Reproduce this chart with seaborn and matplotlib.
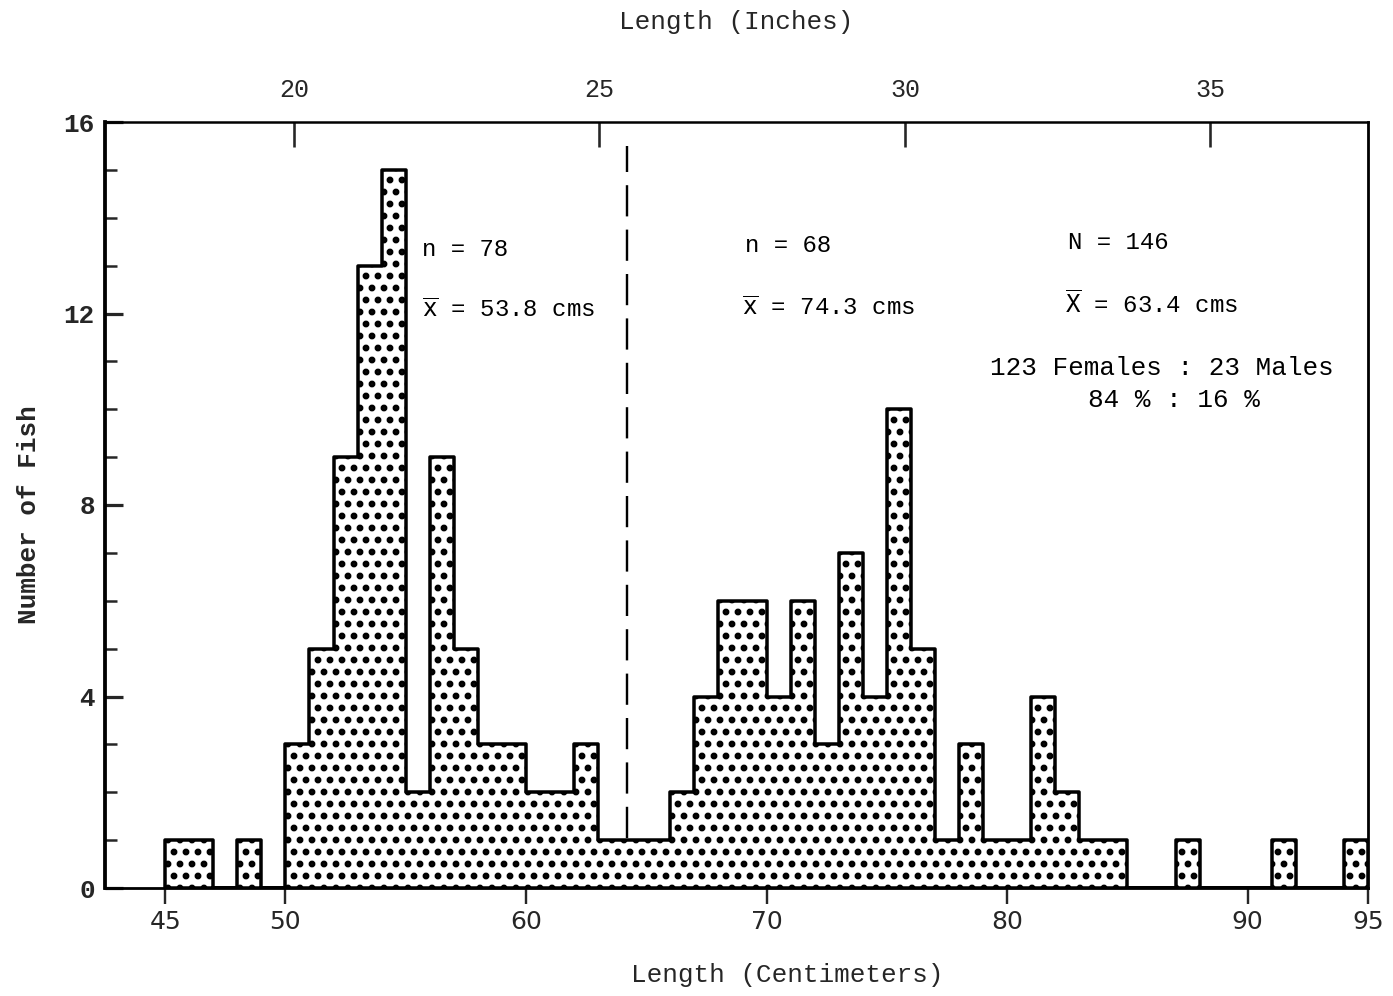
import numpy as np
import pandas as pd
import matplotlib
matplotlib.use("Agg")
import matplotlib.pyplot as plt
import seaborn as sns

# Length classes (lower edge of each 1-cm class) and number of fish per class
length_cm = [45, 46, 48, 50, 51, 52, 53, 54, 55, 56, 57, 58, 59, 60, 61, 62, 63,
             64, 65, 66, 67, 68, 69, 70, 71, 72, 73, 74, 75, 76, 77, 78, 79, 80,
             81, 82, 83, 84, 87, 91, 94]
fish_count = [1, 1, 1, 3, 5, 9, 13, 15, 2, 9, 5, 3, 3, 2, 2, 3, 1,
              1, 1, 2, 4, 6, 6, 4, 6, 3, 7, 4, 10, 5, 1, 3, 1, 1,
              4, 2, 1, 1, 1, 1, 1]

cm_ticks = [45, 50, 60, 70, 80, 90, 95]
inch_ticks = [20, 25, 30, 35]
count_ticks = [0, 4, 8, 12, 16]

# Split between the two size groups and the summary statistics
split_cm = 64.2
left_n, left_mean = 78, 53.8
right_n, right_mean = 68, 74.3
total_n, total_mean = 146, 63.4
females, males = 123, 23
females_pct, males_pct = 84, 16

df = pd.DataFrame({"length": np.array(length_cm) + 0.5, "count": fish_count})

sns.set_style("ticks")
plt.rcParams["hatch.linewidth"] = 4.4
plt.rcParams["hatch.color"] = "black"
MONO = "Liberation Mono"
SANS = "DejaVu Sans"

W, H = 1393, 996
fig = plt.figure(figsize=(W / 72, H / 72), dpi=72)
ax = fig.add_axes([105 / W, 1 - 888 / H, 1263 / W, 766 / H])

sns.histplot(data=df, x="length", weights="count", binwidth=1,
             binrange=(45, 95), element="step", fill=True, facecolor="white",
             edgecolor="black", linewidth=3.5, hatch=".", ax=ax)

ax.set_xlim(42.5, 95.0)
ax.set_ylim(0, 16)

# dividing line between the two groups
ax.vlines(split_cm, 1.05, 15.5, colors="black", linewidth=2.4,
          linestyles=(0, (13, 5.5)))

# spines
for side, lw in {"left": 3.8, "bottom": 2.8, "top": 2.5, "right": 2.8}.items():
    ax.spines[side].set_visible(True)
    ax.spines[side].set_linewidth(lw)
    ax.spines[side].set_color("black")

# y axis: major labelled ticks every 4, minor every 1, pointing inward
ax.set_yticks(count_ticks)
ax.set_yticks(range(0, 17), minor=True)
ax.tick_params(axis="y", which="major", direction="in", length=18, width=3.2,
               pad=10, labelsize=26, left=True, right=False)
ax.tick_params(axis="y", which="minor", direction="in", length=12, width=2.5,
               left=True, right=False)
for lab in ax.get_yticklabels():
    lab.set_fontfamily(MONO)
    lab.set_fontweight("bold")

# bottom axis in centimetres
ax.set_xticks(cm_ticks)
ax.set_xticklabels([str(t) for t in cm_ticks])
ax.tick_params(axis="x", which="major", direction="out", length=16, width=2.4,
               pad=6, labelsize=25, bottom=True, top=False)
for lab in ax.get_xticklabels():
    lab.set_fontfamily(SANS)

# top axis in inches
sec = ax.secondary_xaxis("top", functions=(lambda c: (c + 0.45) / 2.54,
                                           lambda i: i * 2.54 - 0.45))
sec.set_xticks(inch_ticks)
sec.tick_params(axis="x", direction="in", length=25, width=2.6, pad=20,
                labelsize=25)
sec.spines["top"].set_visible(False)
for lab in sec.get_xticklabels():
    lab.set_fontfamily(MONO)

# axis titles
ax.text(0.5, 1.13, "Length (Inches)", transform=ax.transAxes, ha="center",
        va="center", fontsize=26, fontfamily=MONO)
ax.text(0.54, -0.114, "Length (Centimeters)", transform=ax.transAxes,
        ha="center", va="center", fontsize=26, fontfamily=MONO)
ax.set_xlabel("")
ax.set_ylabel("")
ax.text(-0.0605, 0.487, "Number of Fish", transform=ax.transAxes,
        rotation=90, ha="center", va="center", fontsize=26, fontfamily=MONO,
        fontweight="bold")

txt = dict(fontsize=24, fontfamily=MONO, ha="left", va="center", color="black")
ax.text(55.68, 13.33, f"n = {left_n}", **txt)
ax.text(55.68, 12.07, r"$\overline{\mathtt{x}}$" + f" = {left_mean} cms", **txt)
ax.text(69.1, 13.41, f"n = {right_n}", **txt)
ax.text(68.98, 12.11, r"$\overline{\mathtt{x}}$" + f" = {right_mean} cms", **txt)
ax.text(82.53, 13.49, f"N = {total_n}", **txt)
ax.text(82.4, 12.2, r"$\overline{\mathtt{X}}$" + f" = {total_mean} cms", **txt)
ax.text(79.28, 10.86, f"{females} Females : {males} Males",
        **{**txt, "fontsize": 26})
ax.text(83.36, 10.19, f"{females_pct} % : {males_pct} %",
        **{**txt, "fontsize": 26})

fig.savefig("out.png", dpi=72, facecolor="white")
